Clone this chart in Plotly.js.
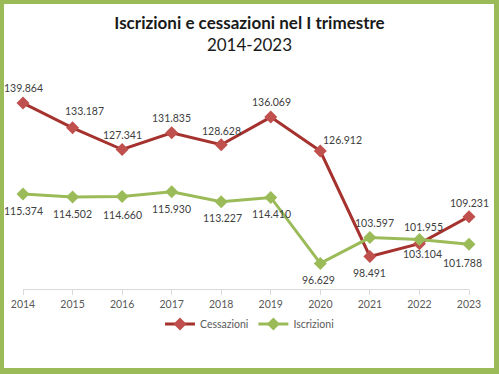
<!DOCTYPE html>
<html><head><meta charset="utf-8">
<script src="https://cdn.plot.ly/plotly-3.0.1.min.js"></script>
<style>
html,body{margin:0;padding:0;background:#fff;}
#wrap{position:absolute;left:0;top:0;width:499px;height:374px;box-sizing:border-box;border-style:solid;border-color:#9BBB59;border-width:4px 5px 6px 4px;}
#chart{position:absolute;left:0;top:0;width:499px;height:374px;}
</style></head>
<body>
<div id="chart"></div>
<div id="wrap"></div>
<script>
const years = ['2014','2015','2016','2017','2018','2019','2020','2021','2022','2023'];
const cessazioni = [139864,133187,127341,131835,128628,136069,126912,98491,101955,109231];
const iscrizioni = [115374,114502,114660,115930,113227,114410,96629,103597,103104,101788];
const cessLabels = ['139.864','133.187','127.341','131.835','128.628','136.069','126.912','98.491','101.955','109.231'];
const iscrLabels = ['115.374','114.502','114.660','115.930','113.227','114.410','96.629','103.597','103.104','101.788'];

// label pixel offsets (style)
const cessDx = [0,12,0,0,0,1,22,0,4,0];
const cessDy = [15,17,15,14.5,14,15,11,-16,17,14];
const iscrDx = [0,0,0,0,1,1,-2,5,3,-7];
const iscrDy = [-17,-17,-18,-17.5,-16.5,-17,-17,15,-15,-19];

const labelFont = {family:'Lato, "Open Sans", sans-serif', size:10.5, color:'#404040'};
const annotations = [];
years.forEach((y,i)=>{
  annotations.push({x:i, y:cessazioni[i], xref:'x', yref:'y', text:cessLabels[i], showarrow:false,
    xshift:cessDx[i], yshift:cessDy[i], font:labelFont});
  annotations.push({x:i, y:iscrizioni[i], xref:'x', yref:'y', text:iscrLabels[i], showarrow:false,
    xshift:iscrDx[i], yshift:iscrDy[i], font:labelFont});
});

const traces = [
  {x:years, y:cessazioni, name:'Cessazioni', type:'scatter', mode:'lines+markers', cliponaxis:false,
   line:{color:'#A5322E', width:3}, marker:{symbol:'diamond', size:10, color:'#C0504D'}},
  {x:years, y:iscrizioni, name:'Iscrizioni', type:'scatter', mode:'lines+markers', cliponaxis:false,
   line:{color:'#9BBB59', width:3}, marker:{symbol:'diamond', size:10, color:'#9BBB59'}}
];

const layout = {
  width:499, height:374,
  margin:{l:23, r:30, t:84, b:85},
  paper_bgcolor:'#fff', plot_bgcolor:'#fff',
  font:{family:'Lato, "Open Sans", sans-serif', color:'#404040'},
  title:{text:'<b>Iscrizioni e cessazioni nel I trimestre</b><br>2014-2023',
    font:{family:'Lato, "Open Sans", sans-serif', size:17, color:'#1a1a1a'},
    x:0.5, xanchor:'center', xref:'container', y:0.923, yanchor:'top', yref:'container'},
  xaxis:{type:'category', range:[0,9], showgrid:false, zeroline:false, showline:true, linecolor:'#D9D9D9', linewidth:1,
    ticks:'outside', ticklen:5, tickcolor:'#D9D9D9', tickfont:{size:10.5, color:'#595959'}, fixedrange:true},
  yaxis:{range:[89728,145000], visible:false, showgrid:false, zeroline:false, fixedrange:true},
  showlegend:true,
  legend:{orientation:'h', x:0.5, xanchor:'center', xref:'container', y:0.134, yanchor:'middle', yref:'container',
    font:{size:10.5, color:'#595959'}, itemwidth:30, tracegroupgap:0},
  annotations:annotations
};
Plotly.newPlot('chart', traces, layout, {displayModeBar:false, staticPlot:true});
</script>
</body></html>
